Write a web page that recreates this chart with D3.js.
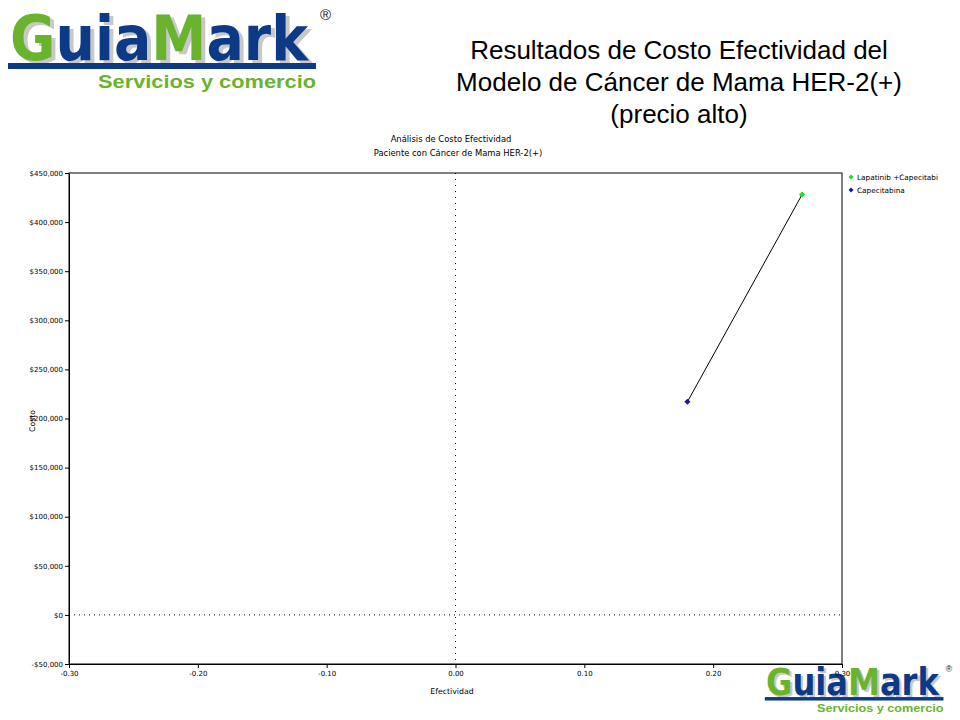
<!DOCTYPE html>
<html><head><meta charset="utf-8">
<script src="https://cdn.jsdelivr.net/npm/d3@7"></script>
<style>
body{margin:0;background:#fff;}
svg{display:block;}
</style></head>
<body>
<svg id="c" width="960" height="720"></svg>
<script>
const strategies = ["Lapatinib +Capecitabi", "Capecitabina"];
const effectiveness = [0.269, 0.180];
const costs = [428000, 217000];
const colors = ["#22dd22", "#1a1a9a"];
const xTicks = [-0.30, -0.20, -0.10, 0.00, 0.10, 0.20, 0.30];
const yTicks = [-50000, 0, 50000, 100000, 150000, 200000, 250000, 300000, 350000, 400000, 450000];
const titleLines = ["Resultados de Costo Efectividad del", "Modelo de Cáncer de Mama HER-2(+)", "(precio alto)"];
const chartTitle = ["Análisis de Costo Efectividad", "Paciente con  Cáncer de Mama HER-2(+)"];

(function () {
const svg = d3.select("#c");
const pL = 69, pR = 842, pT = 173, pB = 664;
const x = d3.scaleLinear().domain([-0.3, 0.3]).range([pL, pR]);
const y = d3.scaleLinear().domain([-50000, 450000]).range([pB, pT]);

// Logo
function logo(g, s) {
  g.append("text").attr("font-family", "'DejaVu Sans', Verdana, sans-serif")
    .attr("font-weight", "bold").attr("font-size", 63 * s).attr("fill", "#c8c8c8")
    .attr("x", 4 * s).attr("y", 57 * s).attr("textLength", 298 * s).attr("lengthAdjust", "spacingAndGlyphs")
    .text("GuiaMark");
  const t = g.append("text").attr("font-family", "'DejaVu Sans', Verdana, sans-serif")
    .attr("font-weight", "bold").attr("font-size", 63 * s)
    .attr("x", 0).attr("y", 54 * s).attr("textLength", 298 * s).attr("lengthAdjust", "spacingAndGlyphs");
  const parts = [["G", "#6ab42d"], ["uia", "#0d3a86"], ["M", "#6ab42d"], ["ark", "#0d3a86"]];
  parts.forEach(p => t.append("tspan").attr("fill", p[1]).text(p[0]));
  g.append("rect").attr("x", -2 * s).attr("y", 57 * s).attr("width", 308 * s).attr("height", 6 * s).attr("fill", "#0d3a86");
  g.append("text").attr("x", 306 * s).attr("y", 82 * s).attr("text-anchor", "end")
    .attr("font-family", "'Liberation Sans', Arial, sans-serif").attr("font-weight", "bold")
    .attr("font-size", 19 * s).attr("fill", "#6ab42d")
    .attr("textLength", 218 * s).attr("lengthAdjust", "spacingAndGlyphs").text("Servicios y comercio");
  g.append("text").attr("x", 310 * s).attr("y", 14 * s)
    .attr("font-family", "'Liberation Sans', Arial, sans-serif").attr("font-size", 15 * s).attr("fill", "#222").text("®");
}
logo(svg.append("g").attr("transform", "translate(10,6)"), 1);
logo(svg.append("g").attr("transform", "translate(766,664)"), 0.58);

// Main title
svg.append("g").selectAll("text").data(titleLines).join("text")
  .attr("x", 679).attr("y", (d, i) => 59 + i * 32).attr("text-anchor", "middle")
  .attr("font-family", "'Liberation Sans', Arial, sans-serif").attr("font-size", 26).attr("fill", "#000")
  .text(d => d);

// Chart title
svg.append("g").selectAll("text").data(chartTitle).join("text")
  .attr("x", (d, i) => i === 0 ? 451 : 458).attr("y", (d, i) => 142 + i * 14).attr("text-anchor", "middle")
  .attr("font-family", "'DejaVu Sans', Tahoma, sans-serif").attr("font-size", 8.4).attr("fill", "#000")
  .text(d => d);

// frame
svg.append("rect").attr("x", pL).attr("y", pT).attr("width", pR - pL).attr("height", pB - pT)
  .attr("fill", "none").attr("stroke", "#000").attr("stroke-width", 1);

// axes
const fmt = v => (v < 0 ? "-$" : "$") + d3.format(",")(Math.abs(v));
const xfmt = v => (v < 0 ? "-" : "") + d3.format(".2f")(Math.abs(v));
const ya = svg.append("g").attr("transform", `translate(${pL},0)`)
  .call(d3.axisLeft(y).tickValues(yTicks).tickFormat(fmt).tickSize(4).tickPadding(2));
const xa = svg.append("g").attr("transform", `translate(0,${pB})`)
  .call(d3.axisBottom(x).tickValues(xTicks).tickFormat(xfmt).tickSize(4).tickPadding(3));
[ya, xa].forEach(a => {
  a.select(".domain").attr("stroke", "#000");
  a.selectAll("line").attr("stroke", "#000");
  a.selectAll("text").attr("font-family", "'DejaVu Sans', Tahoma, sans-serif").attr("font-size", 7).attr("fill", "#000");
});

// axis labels
svg.append("text").attr("x", 452).attr("y", 694).attr("text-anchor", "middle")
  .attr("font-family", "'DejaVu Sans', Tahoma, sans-serif").attr("font-size", 7.8).text("Efectividad");
svg.append("text").attr("transform", "translate(35,421) rotate(-90)").attr("text-anchor", "middle")
  .attr("font-family", "'DejaVu Sans', Tahoma, sans-serif").attr("font-size", 7.8).text("Costo");

// dotted reference lines
svg.append("line").attr("x1", x(0)).attr("x2", x(0)).attr("y1", pT).attr("y2", pB)
  .attr("stroke", "#000").attr("stroke-width", 1).attr("stroke-dasharray", "1,5");
svg.append("line").attr("x1", pL).attr("x2", pR).attr("y1", y(0)).attr("y2", y(0))
  .attr("stroke", "#000").attr("stroke-width", 1).attr("stroke-dasharray", "1,4");

// frontier line
const pts = effectiveness.map((e, i) => ({ e, c: costs[i], i }));
svg.append("path").datum(pts.slice().sort((a, b) => a.e - b.e))
  .attr("d", d3.line().x(d => x(d.e)).y(d => y(d.c)))
  .attr("fill", "none").attr("stroke", "#000").attr("stroke-width", 1);

// markers
svg.append("g").selectAll("path").data(pts).join("path")
  .attr("transform", d => `translate(${x(d.e)},${y(d.c)})`)
  .attr("d", d3.symbol(d3.symbolDiamond2, 24))
  .attr("fill", d => colors[d.i]);

// legend
const lg = svg.append("g").attr("transform", "translate(851,177)");
lg.selectAll("path").data(strategies).join("path")
  .attr("transform", (d, i) => `translate(0,${i * 13})`)
  .attr("d", d3.symbol(d3.symbolDiamond2, 16)).attr("fill", (d, i) => colors[i]);
lg.selectAll("text").data(strategies).join("text")
  .attr("x", 6).attr("y", (d, i) => i * 13 + 2.5)
  .attr("font-family", "'DejaVu Sans', Tahoma, sans-serif").attr("font-size", 7.3).text(d => d);
})();
</script>
</body></html>
